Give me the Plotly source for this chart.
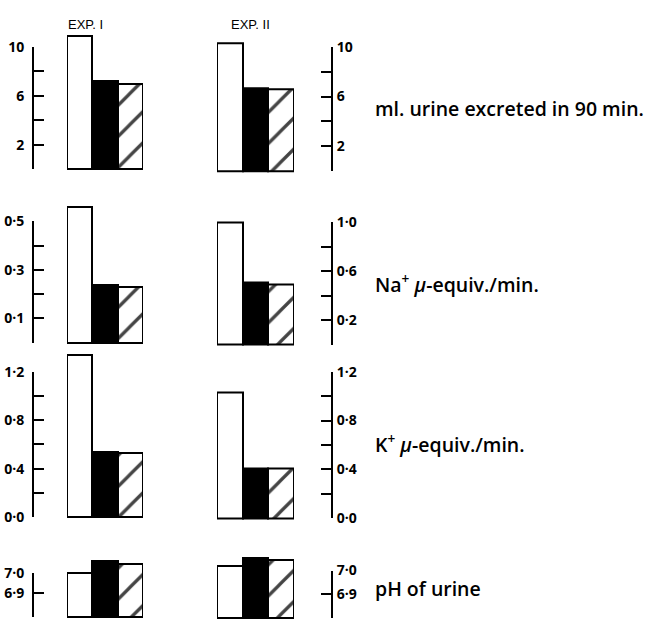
import plotly.graph_objects as go

W, H = 656, 630

# ---------------- data ----------------
categories = ["open", "solid", "hatched"]

exp1_urine = [10.9, 7.2, 7.0]
exp2_urine = [10.3, 6.65, 6.55]
exp1_na = [0.56, 0.236, 0.228]
exp2_na = [1.0, 0.51, 0.49]
exp1_k = [1.34, 0.54, 0.53]
exp2_k = [1.03, 0.41, 0.41]
exp1_ph = [7.0, 7.065, 7.05]
exp2_ph = [7.02, 7.055, 7.045]

urine_ticks = [0, 2, 4, 6, 8, 10]
urine_text = ["", "2", "", "6", "", "10"]
na1_ticks = [0, 0.1, 0.2, 0.3, 0.4, 0.5]
na1_text = ["", "0·1", "", "0·3", "", "0·5"]
na2_ticks = [0, 0.2, 0.4, 0.6, 0.8, 1.0]
na2_text = ["", "0·2", "", "0·6", "", "1·0"]
k_ticks = [0, 0.2, 0.4, 0.6, 0.8, 1.0, 1.2]
k_text = ["0·0", "", "0·4", "", "0·8", "", "1·2"]
ph1_ticks = [6.775, 6.9, 7.0]
ph2_ticks = [6.796, 6.9, 7.0]
ph_text = ["", "6·9", "7·0"]

titles = ["EXP. I", "EXP. II"]
row_labels = ["ml. urine excreted in 90 min.",
              "Na<sup>+</sup> <i>μ</i>-equiv./min.",
              "K<sup>+</sup> <i>μ</i>-equiv./min.",
              "pH of urine"]

# ---------------- layout geometry (pixels) ----------------
# values, ticks, ticktext, bottom_px, ticktop_px, x_left, x_right, axis_x, side
panels = [
    (exp1_urine, urine_ticks, urine_text, 164, 38, 67, 143, 33, "left"),
    (exp2_urine, urine_ticks, urine_text, 166, 38, 217, 294, 332, "right"),
    (exp1_na, na1_ticks, na1_text, 343, 218, 67, 143, 33, "left"),
    (exp2_na, na2_ticks, na2_text, 345, 219, 217, 294, 332, "right"),
    (exp1_k, k_ticks, k_text, 523, 373, 67, 143, 33, "left"),
    (exp2_k, k_ticks, k_text, 524, 373, 217, 294, 332, "right"),
    (exp1_ph, ph1_ticks, ph_text, 626, 581, 67, 143, 33, "left"),
    (exp2_ph, ph2_ticks, ph_text, 627, 578, 217, 294, 332, "right"),
]

fig = go.Figure()
layout = {}
n = len(panels)
tick_font = dict(family="Open Sans", size=14, color="black", weight="bold")

for i, (vals, tv, tt, bot, top, xl, xr, ax_x, side) in enumerate(panels, start=1):
    tmin, tmax = tv[0], tv[-1]
    scale = (bot - top) / (tmax - tmin)
    dom_bot = bot + 3
    dom_top = bot - (max(vals) - tmin) * scale - 4
    rmin = tmin - 3 / scale
    rmax = tmin + (bot - dom_top) / scale

    xid = "x" if i == 1 else f"x{i}"
    yid = "y" if i == 1 else f"y{i}"
    tid = f"y{n + i}"

    fig.add_trace(go.Bar(
        x=categories, y=[v - tmin for v in vals], base=tmin,
        xaxis=xid, yaxis=yid, width=1,
        marker=dict(color=["white", "black", "white"],
                    line=dict(color="black", width=2),
                    pattern=dict(shape=["", "", "/"], fgcolor="black",
                                 fgopacity=1, bgcolor="white",
                                 size=22, solidity=0.15)),
        showlegend=False, hoverinfo="skip"))
    fig.add_trace(go.Scatter(x=[], y=[], xaxis=xid, yaxis=tid,
                             showlegend=False, hoverinfo="skip"))

    layout["xaxis" if i == 1 else f"xaxis{i}"] = dict(
        domain=[xl / W, xr / W], range=[-0.5, 2.5], visible=False,
        anchor=yid, fixedrange=True)
    layout["yaxis" if i == 1 else f"yaxis{i}"] = dict(
        domain=[1 - dom_bot / H, 1 - dom_top / H], range=[rmin, rmax],
        visible=False, anchor=xid, fixedrange=True)
    layout[f"yaxis{n + i}"] = dict(
        domain=[1 - bot / H, 1 - top / H],
        range=[tmin - 1e-6, tmax + 1e-6],
        anchor="free", position=ax_x / W, side=side,
        showline=True, linecolor="black", linewidth=2,
        ticks="inside", ticklen=10, tickwidth=2, tickcolor="black",
        tickmode="array", tickvals=tv, ticktext=tt,
        ticklabelstandoff=5 if side == "left" else 1,
        tickfont=tick_font, showgrid=False, zeroline=False,
        fixedrange=True)

annotations = [
    dict(x=85 / W, y=1 - 15 / H, text=titles[0]),
    dict(x=250 / W, y=1 - 15 / H, text=titles[1]),
]
for a in annotations:
    a.update(xref="paper", yref="paper", showarrow=False,
             xanchor="center", yanchor="middle",
             font=dict(family="Liberation Sans", size=13, color="black"))

label_y = [102, 282, 447, 597]
for txt, py in zip(row_labels, label_y):
    annotations.append(dict(
        x=373 / W, y=1 - py / H, xref="paper", yref="paper", text=txt,
        showarrow=False, xanchor="left", yanchor="middle",
        font=dict(family="Open Sans", size=19.5, color="black", weight=600)))

fig.update_layout(
    width=W, height=H, margin=dict(l=0, r=0, t=0, b=0),
    paper_bgcolor="white", plot_bgcolor="rgba(0,0,0,0)",
    bargap=0, annotations=annotations, **layout)

fig.write_html("out.html")
